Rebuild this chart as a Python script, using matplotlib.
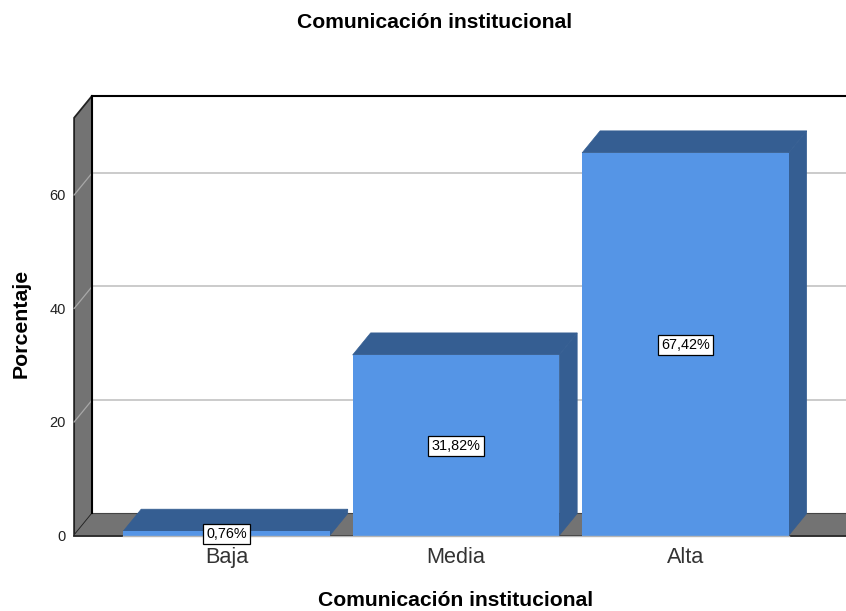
import matplotlib
matplotlib.use("Agg")
import matplotlib.pyplot as plt
from matplotlib.patches import Polygon

plt.rcParams['font.family'] = ['Liberation Sans', 'DejaVu Sans']

categorias = ['Baja', 'Media', 'Alta']
porcentajes = [0.76, 31.82, 67.42]
etiquetas = ['0,76%', '31,82%', '67,42%']
ticks_y = [0, 20, 40, 60]
titulo = 'Comunicación institucional'

FRENTE = '#5595e6'
OSCURO = '#355e92'
GRIS = '#737373'

# profundidad del efecto 3D, en unidades de los ejes
dx = 0.0784
dy = 3.88
ancho = 0.9
techo = 73.6

fig = plt.figure(figsize=(8.46, 6.11), dpi=100)
ax = fig.add_axes([0, 0, 1, 1])
ax.set_xlim(-0.987, 2.70)
ax.set_ylim(-13.3, 94.36)
ax.axis('off')

izq = -0.664
der = 2.75

# pared izquierda y suelo
ax.add_patch(Polygon([(izq, 0), (izq + dx, dy), (izq + dx, techo + dy), (izq, techo)],
                     fc=GRIS, ec='#222222', lw=1.3, zorder=1))
ax.add_patch(Polygon([(izq, 0), (izq + dx, dy), (der, dy), (der, 0)],
                     fc=GRIS, ec='none', zorder=1))
ax.plot([izq + dx, der], [dy, dy], color='#444444', lw=0.8, zorder=1)
ax.plot([izq, der], [0, 0], color='#222222', lw=1.3, zorder=1.5)
ax.plot([izq + dx, der], [techo + dy, techo + dy], color='black', lw=1.5, zorder=1)
ax.plot([izq + dx, izq + dx], [dy, techo + dy], color='black', lw=1.5, zorder=1.2)

# rejilla
for t in ticks_y[1:]:
    ax.plot([izq, izq + dx], [t, t + dy], color='#a8a8a8', lw=0.9, zorder=1.1)
    ax.plot([izq + dx, der], [t + dy, t + dy], color='#bdbdbd', lw=1.1, zorder=1.1)

# barras
for i, v in enumerate(porcentajes):
    x0 = i - ancho / 2
    x1 = i + ancho / 2
    ax.add_patch(Polygon([(x0, v), (x0 + dx, v + dy), (x1 + dx, v + dy), (x1, v)],
                         fc=OSCURO, ec=OSCURO, lw=0.5, zorder=3))
    ax.add_patch(Polygon([(x1, 0), (x1 + dx, dy), (x1 + dx, v + dy), (x1, v)],
                         fc=OSCURO, ec=OSCURO, lw=0.5, zorder=3))
    ax.bar(i, v, width=ancho, color=FRENTE, edgecolor='none', zorder=4)
    ax.text(i, v / 2 - 0.1, etiquetas[i], ha='center', va='center', fontsize=10.4, color='black',
            bbox=dict(fc='white', ec='black', lw=0.9, boxstyle='square,pad=0.22'), zorder=6)
    ax.text(i, -2.05, categorias[i], ha='center', va='top', fontsize=15.6, color='#333333', zorder=5)

ax.plot([-0.45, 2.45], [0, 0], color='#b5b5b5', lw=1, zorder=4.5)

for t in ticks_y:
    ax.text(izq - 0.035, t - 0.25, str(t), ha='right', va='center', fontsize=10.5, color='#222222')

ax.text(434.5 / 846, 588 / 611, titulo, transform=ax.transAxes, ha='center', va='center',
        fontsize=15.2, fontweight='bold')
ax.text(455.5 / 846, 10.5 / 611, titulo, transform=ax.transAxes, ha='center', va='center',
        fontsize=15.2, fontweight='bold')
ax.text(21 / 846, 288 / 611, 'Porcentaje', transform=ax.transAxes, rotation=90, ha='center',
        va='center', fontsize=15.3, fontweight='bold')

fig.savefig('out.png', dpi=100)
